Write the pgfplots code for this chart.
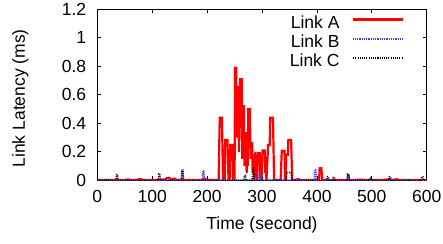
\documentclass[border=0pt]{standalone}
\usepackage{fontspec}
\setmainfont{Liberation Sans}
\usepackage{pgfplots}
\pgfplotsset{compat=1.18}
\pgfplotstableread{
t v
0 0.002
10 0.002
20 0.003
30 0.002
40 0.002
50 0.003
57 0.006
60 0.002
70 0.003
78 0.008
82 0.004
90 0.002
100 0.003
110 0.002
118 0.006
122 0.004
127 0.016
131 0.018
134 0.004
140 0.012
143 0.004
150 0.003
160 0.002
170 0.003
180 0.002
190 0.003
196 0.012
200 0.004
210 0.002
218 0.003
221 0.0
223 0.44
227 0.44
229 0.0
232 0.0
233 0.283
237 0.283
239 0.0
241 0.0
242 0.248
246 0.248
247 0.0
249 -0.012
250 0.0
251 0.79
253 0.79
254 0.3
255 0.655
257 0.655
258 0.2
259 0.4
260 0.71
263 0.71
264 0.15
265 0.52
267 0.52
268 0.1
269 0.33
271 0.33
272 0.05
273 0.2
274 0.1
275 0.50
278 0.50
279 0.15
280 0.26
282 0.26
283 0.05
284 0.18
285 0.1
286 0.0
287 0.12
288 0.2
289 0.05
290 0.15
291 0.0
293 0.19
296 0.19
297 0.02
299 0.0
300 0.1
301 0.21
305 0.21
306 0.05
307 0.15
308 0.0
310 0.15
311 0.248
314 0.248
315 0.44
320 0.44
322 0.0
326 0.003
330 0.002
334 0.0
336 0.208
341 0.208
342 0.0
343 0.0
344 0.18
347 0.18
348 0.283
353 0.283
355 0.0
360 0.003
366 0.008
370 0.003
380 0.002
390 0.003
400 0.002
404 0.0
405 0.085
408 0.085
410 0.0
415 0.003
420 0.002
430 0.003
440 0.002
450 0.003
460 0.002
470 0.003
480 0.005
490 0.002
500 0.003
510 0.002
520 0.003
530 0.006
540 0.004
545 0.007
550 0.002
560 0.003
570 0.002
580 0.003
590 0.002
600 0.003
}\linkA
\pgfplotstableread{
t v
0 0.002
50 0.002
100 0.002
150 0.002
153 0.0
154 0.075
156 0.075
157 0.0
191 0.0
192 0.065
194 0.065
195 0.0
240 0.002
294 0.0
295 0.045
297 0.045
298 0.0
350 0.002
395 0.0
396 0.075
398 0.075
399 0.0
455 0.0
456 0.045
458 0.045
459 0.0
500 0.002
550 0.002
600 0.002
}\linkB
\pgfplotstableread{
t v
0 0.001
34 0.0
35 0.04
37 0.04
38 0.0
111 0.0
112 0.045
114 0.045
115 0.0
153 0.0
154 0.065
156 0.065
157 0.0
267 0.0
268 0.035
270 0.035
271 0.0
282 0.0
283 0.085
285 0.085
286 0.0
344 0.0
345 0.055
353 0.055
354 0.0
418 0.0
419 0.025
421 0.025
422 0.0
429 0.0
430 0.02
432 0.02
433 0.0
455 0.0
456 0.04
458 0.04
459 0.0
496 0.0
497 0.02
499 0.02
500 0.0
531 0.0
532 0.025
534 0.025
535 0.0
590 0.0
591 0.025
593 0.025
594 0.0
600 0.001
}\linkC
\definecolor{gpblue}{RGB}{60,60,255}
\begin{document}
\begin{tikzpicture}
\path[use as bounding box] (-97.3pt,-62.7pt) rectangle (345.7pt,180.3pt);
\begin{axis}[
  at={(0,0)}, anchor=south west,
  scale only axis, width=329.4pt, height=171pt,
  xmin=0, xmax=600, ymin=0, ymax=1.2,
  xtick={0,100,...,600}, ytick={0,0.2,0.4,0.6,0.8,1,1.2},
  tick align=inside, major tick length=4pt,
  axis line style={line width=0.7pt},
  every tick/.style={black, line width=0.7pt},
  /pgf/number format/assume math mode=true,
  ticklabel style={font=\fontsize{17.5}{21}\selectfont, inner sep=0pt},
  xticklabel style={anchor=north, yshift=-10pt},
  yticklabel style={anchor=east, xshift=-11pt},
  label style={font=\fontsize{17.5}{21}\selectfont},
  xlabel={Time (second)},
  ylabel={Link Latency (ms)},
  xlabel style={at={([yshift=-44.7pt]rel axis cs:0.5,0)}, anchor=center},
  ylabel style={at={([xshift=-77pt,yshift=-3.5pt]rel axis cs:0,0.5)}, anchor=center},
  legend cell align=right,
  legend plot pos=right,
  legend style={draw=none, fill=none, inner sep=0pt, outer sep=0pt,
    at={([xshift=306.7pt,yshift=-6.7pt]rel axis cs:0,1)}, anchor=north east,
    column sep=12.6pt, row sep=0pt,
    nodes={inner sep=0pt, font=\fontsize{17.5}{21}\selectfont, text height=12.5pt, text depth=6.7pt}},
  legend image code/.code={\draw[#1] plot coordinates {(0pt,6pt) (24.85pt,6pt) (49.7pt,6pt)};},
]
\addplot[red, line width=2.2pt] table[x=t, y=v] {\linkA};
\addlegendentry{Link A}
\addplot[gpblue, line width=1.5pt, dash pattern=on 1pt off 0.8pt] table[x=t, y=v] {\linkB};
\addlegendentry{Link B}
\addplot[black, line width=1.5pt, dash pattern=on 1pt off 1.2pt] table[x=t, y=v] {\linkC};
\addlegendentry{Link C}
\end{axis}
\end{tikzpicture}
\end{document}
